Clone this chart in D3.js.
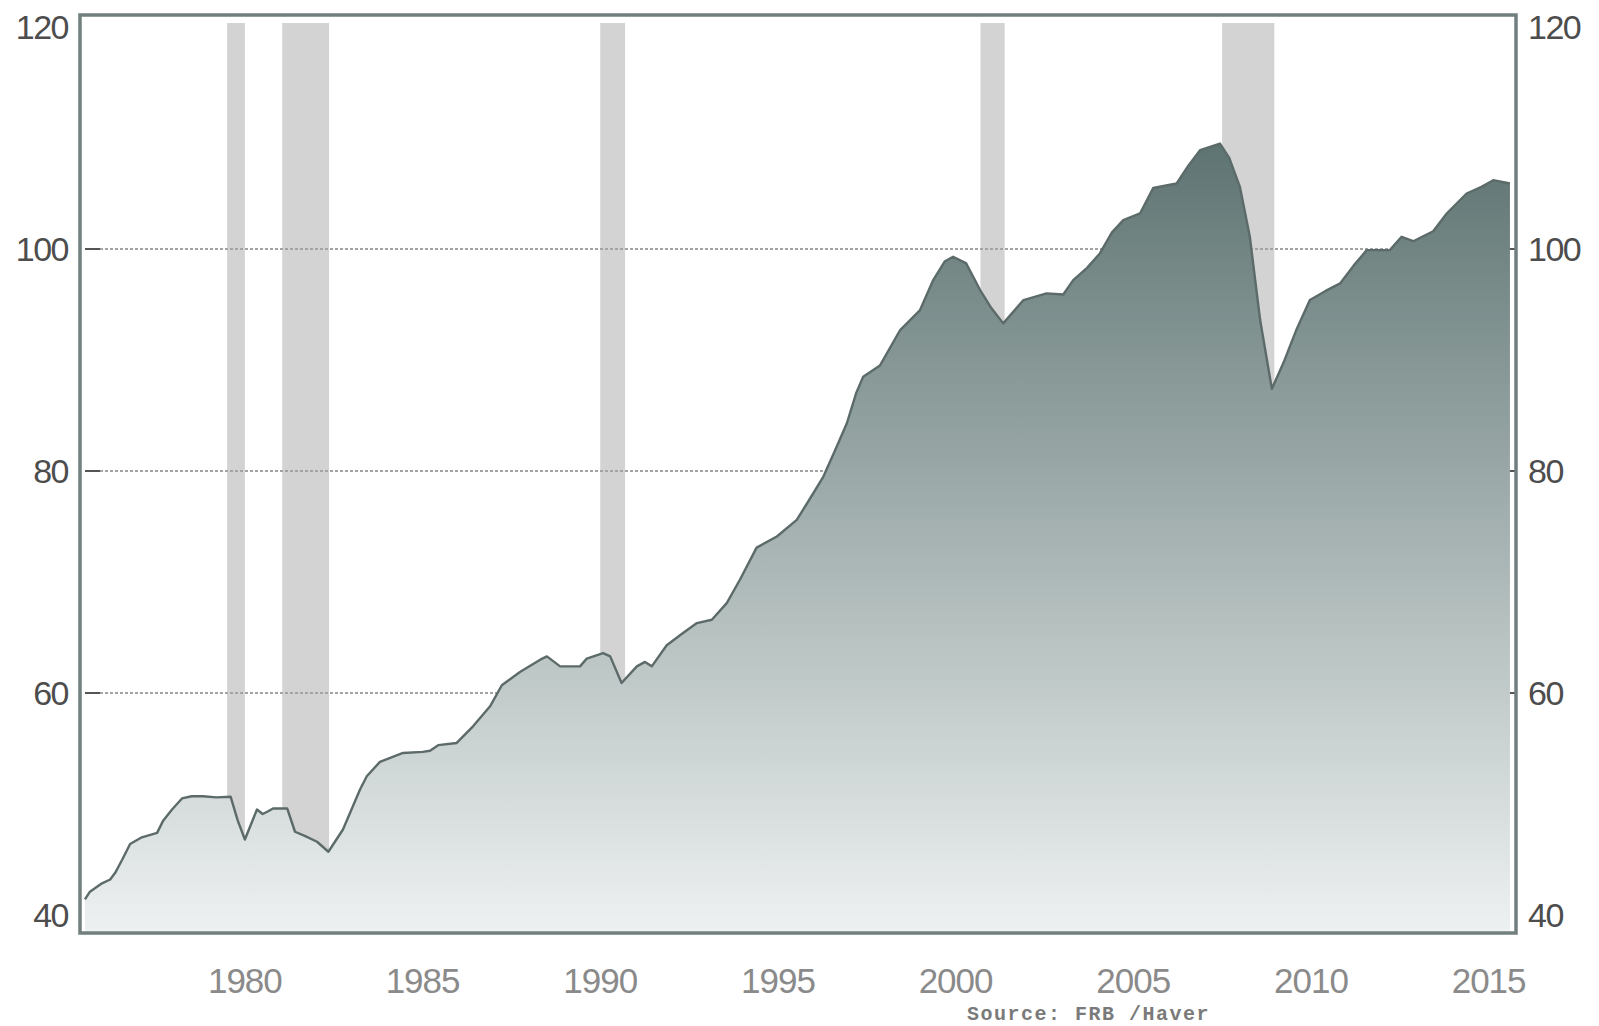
<!DOCTYPE html>
<html>
<head>
<meta charset="utf-8">
<script src="https://cdn.jsdelivr.net/npm/d3@7"></script>
<style>
  html, body { margin: 0; padding: 0; background: #ffffff; }
  svg { display: block; }
</style>
</head>
<body>
<svg id="chart" width="1599" height="1026"></svg>
<script>
// ---- data ----
const dates = [
  1976.00, 1976.14, 1976.45, 1976.71, 1976.85, 1977.05, 1977.27, 1977.60, 1978.03, 1978.20,
  1978.45, 1978.73, 1979.00, 1979.32, 1979.70, 1980.10, 1980.30, 1980.50, 1980.65, 1980.84,
  1981.00, 1981.13, 1981.29, 1981.69, 1981.91, 1982.20, 1982.53, 1982.85, 1983.26, 1983.50,
  1983.74, 1983.93, 1984.30, 1984.95, 1985.50, 1985.71, 1985.94, 1986.46, 1986.92, 1987.40,
  1987.73, 1988.24, 1988.81, 1989.00, 1989.37, 1989.93, 1990.12, 1990.58, 1990.78, 1991.10,
  1991.53, 1991.76, 1991.95, 1992.37, 1992.83, 1993.22, 1993.64, 1994.06, 1994.43, 1994.90,
  1995.47, 1996.03, 1996.40, 1996.78, 1997.10, 1997.44, 1997.70, 1997.90, 1998.37, 1998.94,
  1999.50, 1999.87, 2000.20, 2000.43, 2000.80, 2001.19, 2001.50, 2001.84, 2002.41, 2003.06,
  2003.53, 2003.81, 2004.20, 2004.56, 2004.90, 2005.22, 2005.69, 2006.06, 2006.72, 2007.05,
  2007.38, 2007.94, 2008.20, 2008.50, 2008.78, 2009.07, 2009.40, 2009.72, 2010.10, 2010.47,
  2010.90, 2011.32, 2011.70, 2012.07, 2012.72, 2013.05, 2013.38, 2013.94, 2014.32, 2014.88,
  2015.30, 2015.63, 2016.10
];
const ipIndex = [
  41.4, 42.1, 42.8, 43.2, 43.8, 45.0, 46.4, 47.0, 47.4, 48.5,
  49.5, 50.5, 50.7, 50.7, 50.6, 50.65, 48.5, 46.8, 48.0, 49.5,
  49.1, 49.3, 49.6, 49.6, 47.5, 47.1, 46.6, 45.7, 47.7, 49.5,
  51.3, 52.5, 53.8, 54.6, 54.7, 54.8, 55.3, 55.5, 57.0, 58.8,
  60.7, 61.9, 63.0, 63.3, 62.4, 62.4, 63.1, 63.6, 63.3, 60.9,
  62.4, 62.8, 62.4, 64.3, 65.4, 66.3, 66.6, 68.1, 70.2, 73.1,
  74.1, 75.6, 77.5, 79.5, 81.8, 84.3, 87.0, 88.5, 89.5, 92.7,
  94.5, 97.2, 98.9, 99.3, 98.7, 96.3, 94.7, 93.3, 95.4, 96.0,
  95.9, 97.2, 98.3, 99.6, 101.5, 102.6, 103.2, 105.5, 105.9, 107.5,
  108.9, 109.5, 108.2, 105.6, 101.1, 93.6, 87.4, 89.7, 92.8, 95.4,
  96.2, 96.9, 98.5, 99.9, 99.9, 101.1, 100.7, 101.6, 103.2, 105.0,
  105.6, 106.2, 105.9
];
const recessionStarts = [1980.00, 1981.55, 1990.50, 2001.20, 2008.00];
const recessionEnds   = [1980.50, 1982.87, 1991.20, 2001.88, 2009.47];
const yTicks = [40, 60, 80, 100, 120];
const gridValues = [60, 80, 100];
const xTickYears = [1980, 1985, 1990, 1995, 2000, 2005, 2010, 2015];
const sourceText = "Source: FRB /Haver";

// ---- layout ----
const W = 1599, H = 1026;
const frame = { left: 80, right: 1516, top: 15, bottom: 933 };
const padTop = 12, padBottom = 18;

const svg = d3.select("#chart");
svg.append("rect").attr("width", W).attr("height", H).attr("fill", "#ffffff");

const x = d3.scaleLinear().domain([1975.86, 2016.27]).range([frame.left, frame.right]);
const y = d3.scaleLinear().domain([40, 120]).range([frame.bottom - padBottom, frame.top + padTop]);

const series = dates.map((d, i) => ({ t: d, v: ipIndex[i] }));

// gradient
const defs = svg.append("defs");
const grad = defs.append("linearGradient")
  .attr("id", "areaGrad")
  .attr("gradientUnits", "userSpaceOnUse")
  .attr("x1", 0).attr("x2", 0)
  .attr("y1", y(110)).attr("y2", frame.bottom);
grad.append("stop").attr("offset", "0%").attr("stop-color", "#5d7371");
grad.append("stop").attr("offset", "45%").attr("stop-color", "#9eacab");
grad.append("stop").attr("offset", "100%").attr("stop-color", "#eef1f1");

const clip = defs.append("clipPath").attr("id", "plotClip");
clip.append("rect")
  .attr("x", frame.left).attr("y", frame.top)
  .attr("width", frame.right - frame.left).attr("height", frame.bottom - frame.top);

const plot = svg.append("g").attr("clip-path", "url(#plotClip)");

// recession bars
plot.selectAll("rect.rec")
  .data(recessionStarts.map((s, i) => ({ s, e: recessionEnds[i] })))
  .join("rect")
  .attr("class", "rec")
  .attr("x", d => x(d.s))
  .attr("width", d => x(d.e) - x(d.s))
  .attr("y", y(120) - 4)
  .attr("height", frame.bottom - (y(120) - 4))
  .attr("fill", "#d3d3d3");

// gridlines
plot.selectAll("line.grid")
  .data(gridValues)
  .join("line")
  .attr("class", "grid")
  .attr("x1", frame.left + 20).attr("x2", frame.right - 10)
  .attr("y1", d => y(d)).attr("y2", d => y(d))
  .attr("stroke", "#a3a3a3")
  .attr("stroke-width", 2.2)
  .attr("stroke-dasharray", "3,2");

// small tick marks inside frame
plot.selectAll("line.tickL")
  .data(gridValues)
  .join("line")
  .attr("x1", frame.left + 5).attr("x2", frame.left + 20)
  .attr("y1", d => y(d)).attr("y2", d => y(d))
  .attr("stroke", "#555").attr("stroke-width", 2);
plot.selectAll("line.tickR")
  .data(gridValues)
  .join("line")
  .attr("x1", frame.right - 10).attr("x2", frame.right)
  .attr("y1", d => y(d)).attr("y2", d => y(d))
  .attr("stroke", "#555").attr("stroke-width", 2);

// area + line
const area = d3.area()
  .x(d => x(d.t))
  .y0(frame.bottom)
  .y1(d => y(d.v))
  .curve(d3.curveLinear);
const line = d3.line()
  .x(d => x(d.t))
  .y(d => y(d.v))
  .curve(d3.curveLinear);

plot.append("path").datum(series).attr("d", area).attr("fill", "url(#areaGrad)");
plot.append("path").datum(series).attr("d", line)
  .attr("fill", "none")
  .attr("stroke", "#5c6b69")
  .attr("stroke-width", 2.4)
  .attr("stroke-linejoin", "round");

// frame
svg.append("rect")
  .attr("x", frame.left).attr("y", frame.top)
  .attr("width", frame.right - frame.left).attr("height", frame.bottom - frame.top)
  .attr("fill", "none")
  .attr("stroke", "#71807e")
  .attr("stroke-width", 3.5);

// y labels both sides
const fontFam = "'Liberation Sans', Arial, sans-serif";
svg.selectAll("text.yl")
  .data(yTicks)
  .join("text")
  .attr("class", "yl")
  .attr("x", frame.left - 12)
  .attr("y", d => y(d))
  .attr("dy", "0.36em")
  .attr("text-anchor", "end")
  .attr("font-family", fontFam)
  .attr("font-size", 34)
  .attr("letter-spacing", -1.5)
  .attr("fill", "#4d4d4d")
  .text(d => d);
svg.selectAll("text.yr")
  .data(yTicks)
  .join("text")
  .attr("class", "yr")
  .attr("x", frame.right + 12)
  .attr("y", d => y(d))
  .attr("dy", "0.36em")
  .attr("text-anchor", "start")
  .attr("font-family", fontFam)
  .attr("font-size", 34)
  .attr("letter-spacing", -1.5)
  .attr("fill", "#4d4d4d")
  .text(d => d);

// x labels (centred mid-year)
svg.selectAll("text.xl")
  .data(xTickYears)
  .join("text")
  .attr("class", "xl")
  .attr("x", d => x(d + 0.5))
  .attr("y", 993)
  .attr("text-anchor", "middle")
  .attr("font-family", fontFam)
  .attr("font-size", 35)
  .attr("letter-spacing", -1)
  .attr("fill", "#8a8a8a")
  .text(d => d);

// source
svg.append("text")
  .attr("x", 967)
  .attr("y", 1020)
  .attr("font-family", "'Liberation Mono', 'DejaVu Sans Mono', monospace")
  .attr("font-weight", "bold")
  .attr("font-size", 20)
  .attr("letter-spacing", 1.5)
  .attr("fill", "#7a7a7a")
  .text(sourceText);
</script>
</body>
</html>
